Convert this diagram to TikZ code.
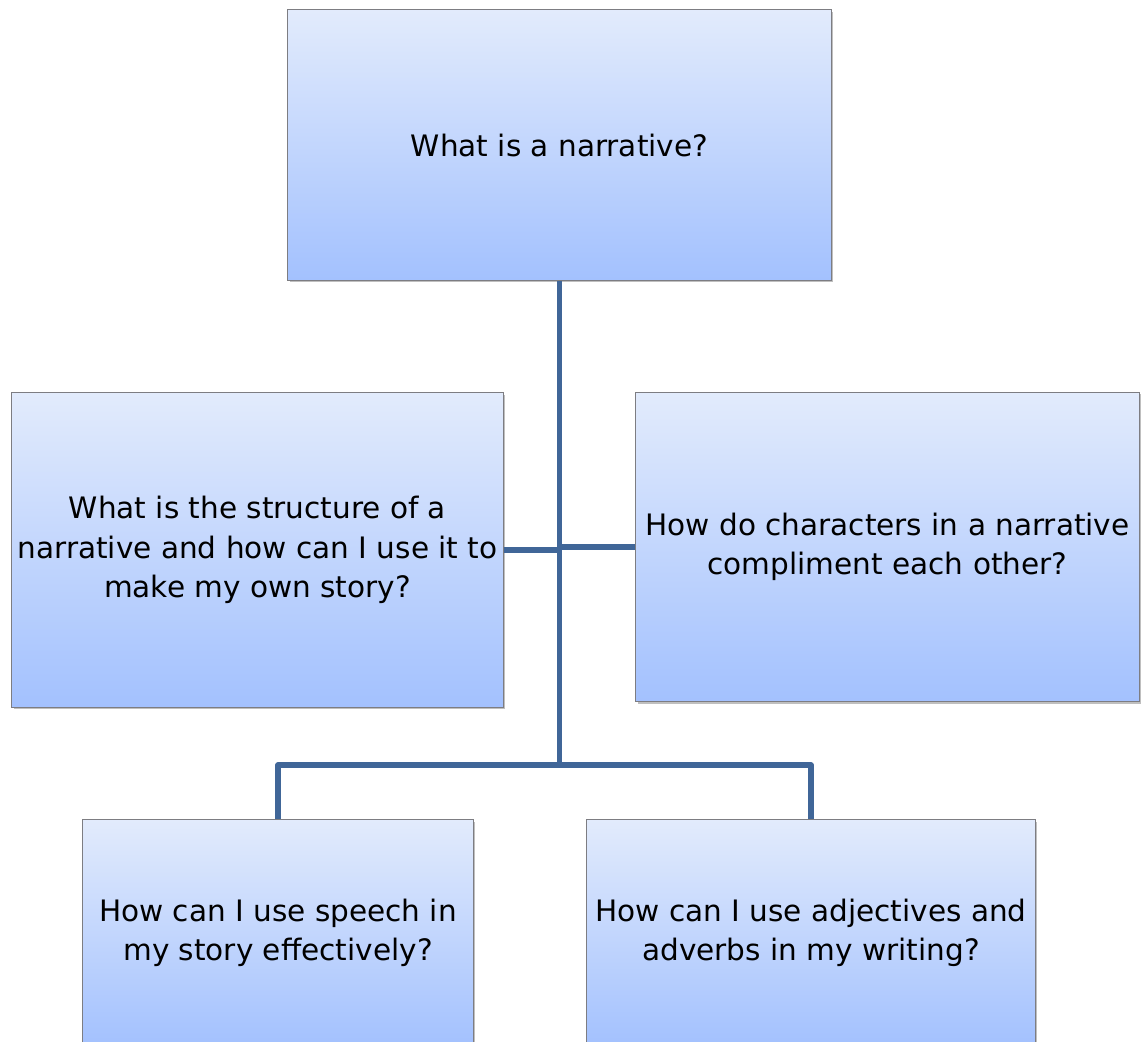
\documentclass[tikz,border=0pt]{standalone}
\usepackage{fontspec}
\setmainfont{DejaVu Sans}
\usepackage{tikz}
\usetikzlibrary{shadows}
\usepackage{xcolor}

\definecolor{boxtop}{RGB}{226,235,252}
\definecolor{boxbot}{RGB}{163,193,254}
\definecolor{boxedge}{RGB}{125,125,130}
\definecolor{linkblue}{RGB}{64,102,152}

\tikzset{
  question/.style={draw=boxedge, line width=0.7pt, top color=boxtop, bottom color=boxbot,
    align=center, inner sep=1pt, font=\fontsize{21pt}{28pt}\selectfont,
    drop shadow={shadow xshift=1.5pt, shadow yshift=-1.5pt, opacity=0.25, fill=black}},
  link/.style={draw=linkblue, line width=3.6pt}
}

\begin{document}
\begin{tikzpicture}[x=0.025cm, y=-0.025cm]
                % page frame
                \useasboundingbox (0,0) rectangle (1141,1041);
                \clip (0,0) rectangle (1141,1041);

                % Main question (top)
                \node[question, minimum width=13.58cm, minimum height=6.75cm] (q0) at (559.5,145)
                  {What is a narrative?};

                % Middle row
                \node[question, minimum width=12.28cm, minimum height=7.85cm] (q1) at (257.5,550)
                  {What is the structure of a\\narrative and how can I use it to\\make my own story?};
                \node[question, minimum width=12.58cm, minimum height=7.73cm] (q2) at (887.5,547)
                  {How do characters in a narrative\\compliment each other?};

                % Bottom row (cut by the page edge)
                \node[question, minimum width=9.75cm, minimum height=5.65cm] (q3) at (278,933)
                  {How can I use speech in\\my story effectively?};
                \node[question, minimum width=11.2cm, minimum height=5.65cm] (q4) at (811,933)
                  {How can I use adjectives and\\adverbs in my writing?};

                % Connectors
                \coordinate (hub) at (559.5,765);
                \draw[link] (q0.south) -- (hub);
                \draw[link] (q1.east) -- (q1.east -| q0.south);
                \draw[link] (q2.west) -- (q2.west -| q0.south);
                \draw[link, line join=round] (q3.north) |- (hub) -| (q4.north);
            \end{tikzpicture}
\end{document}
